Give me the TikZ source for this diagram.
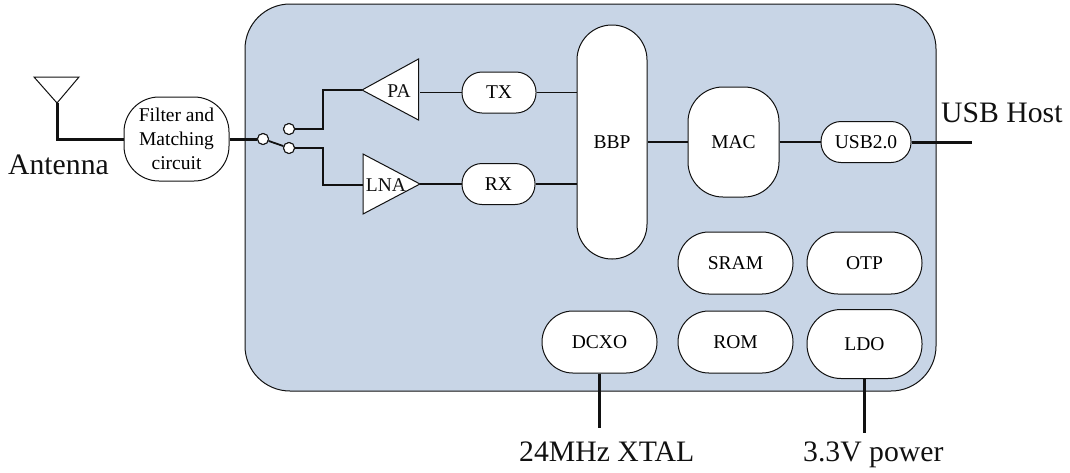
\documentclass[tikz,border=0pt]{standalone}
\usepackage{fontspec}
\setmainfont{Liberation Serif}
\definecolor{chip}{HTML}{C8D5E6}
\definecolor{ink}{HTML}{111111}
\tikzset{
  x=1pt,y=-1pt,
  blk/.style={draw=ink,fill=white,line width=1pt,inner sep=0pt,align=center,font=\fontsize{19.5}{24}\selectfont},
  thin wire/.style={draw=ink,line width=1.8pt},
  thick wire/.style={draw=ink,line width=3pt},
  big/.style={font=\fontsize{29.7}{32}\selectfont,inner sep=0pt,text=ink},
  lab/.style={font=\fontsize{19.5}{22}\selectfont,inner sep=0pt,text=ink},
  term/.style={circle,draw=ink,fill=white,line width=1pt,minimum size=11pt,inner sep=0pt},
  tri/.style={draw=ink,fill=white,line width=1pt,line join=miter},
}
\newcommand{\blkbox}[7]{% name, cx, cy, w, h, r, text
  \node[blk,rounded corners=#6pt,minimum width=#4pt,minimum height=#5pt] (#1) at (#2,#3) {#7};}
\begin{document}
\begin{tikzpicture}
\useasboundingbox (0,0) rectangle (1070,472);
\node[draw=ink,fill=chip,line width=1pt,rounded corners=45pt,minimum width=691pt,minimum height=387pt,inner sep=0pt] (chipbox) at (590.5,197.5) {};
% antenna
\coordinate (antL) at (34,77);
\coordinate (antR) at (79,77);
\coordinate (antT) at (57,103);
\draw[draw=ink,line width=1pt] (antL) -- (antR) -- (antT) -- cycle;
\node[big,anchor=base west] (antlabel) at (8,174) {Antenna};
% blocks
\blkbox{filter}{176.5}{139}{105}{84}{35}{Filter and\\Matching\\circuit}
\blkbox{tx}{499}{92.5}{74}{41}{20}{TX}
\blkbox{rx}{498.5}{184}{73}{41}{20}{RX}
\blkbox{bbp}{612}{142}{70}{234}{34.9}{BBP}
\blkbox{mac}{733.5}{142}{91}{110}{35}{MAC}
\blkbox{usb}{866}{142}{90}{41}{20}{USB2.0}
\blkbox{sram}{735.5}{263}{115}{62}{30.9}{SRAM}
\blkbox{otp}{864.5}{263}{115}{62}{30.9}{OTP}
\blkbox{rom}{735.5}{342}{115}{62}{30.9}{ROM}
\blkbox{ldo}{864.5}{344}{115}{69}{34}{LDO}
\blkbox{dcxo}{599.5}{342}{115}{62}{30.9}{DCXO}
% amplifiers
\coordinate (patip) at (362,90);
\coordinate (paback) at (420,92.5);
\draw[tri] (patip) -- (418.5,59) -- (418.5,120) -- cycle;
\node[lab] (palabel) at (399,91.5) {PA};
\coordinate (lnain) at (363,185);
\coordinate (lnatip) at (420,184);
\draw[tri] (lnatip) -- (363,154) -- (363,214) -- cycle;
\node[lab] (lnalabel) at (386,185) {LNA};
% switch
\node[term] (s0) at (263,139) {};
\node[term] (s1) at (289,129) {};
\node[term] (s2) at (289,148) {};
% wires
\draw[thick wire,line join=miter] (antT) -- (antT |- filter.west) -- (filter.west);
\draw[thick wire] (filter.east) -- (s0.west);
\draw[thin wire] (s0) -- (s2);
\draw[thin wire] (s1.east) -- (323,129) -- (323,90) -- (patip);
\draw[thin wire] (s2.east) -- (323,148) -- (323,185) -- (lnain);
\draw[thin wire] (paback) -- (tx.west);
\draw[thin wire] (tx.east) -- (bbp.west |- tx.east);
\draw[thin wire] (lnatip) -- (rx.west);
\draw[thin wire] (rx.east) -- (bbp.west |- rx.east);
\draw[thin wire] (bbp.east) -- (mac.west);
\draw[thin wire] (mac.east) -- (usb.west);
\coordinate (usbend) at (972,142);
\draw[thick wire] (usb.east) -- (usbend);
\coordinate (xtalend) at (599.5,428);
\draw[thick wire] (dcxo.south) -- (xtalend);
\coordinate (pwrend) at (864.5,433);
\draw[thick wire] (ldo.south) -- (pwrend);
% redraw terminals on top
\node[term] at (s0) {};
\node[term] at (s1) {};
\node[term] at (s2) {};
% outer labels
\node[big,anchor=base west] (usblabel) at (941,122) {USB Host};
\node[big,anchor=base west] (xtallabel) at (519,461) {24MHz XTAL};
\node[big,anchor=base west] (pwrlabel) at (803,461) {3.3V power};
\end{tikzpicture}
\end{document}
